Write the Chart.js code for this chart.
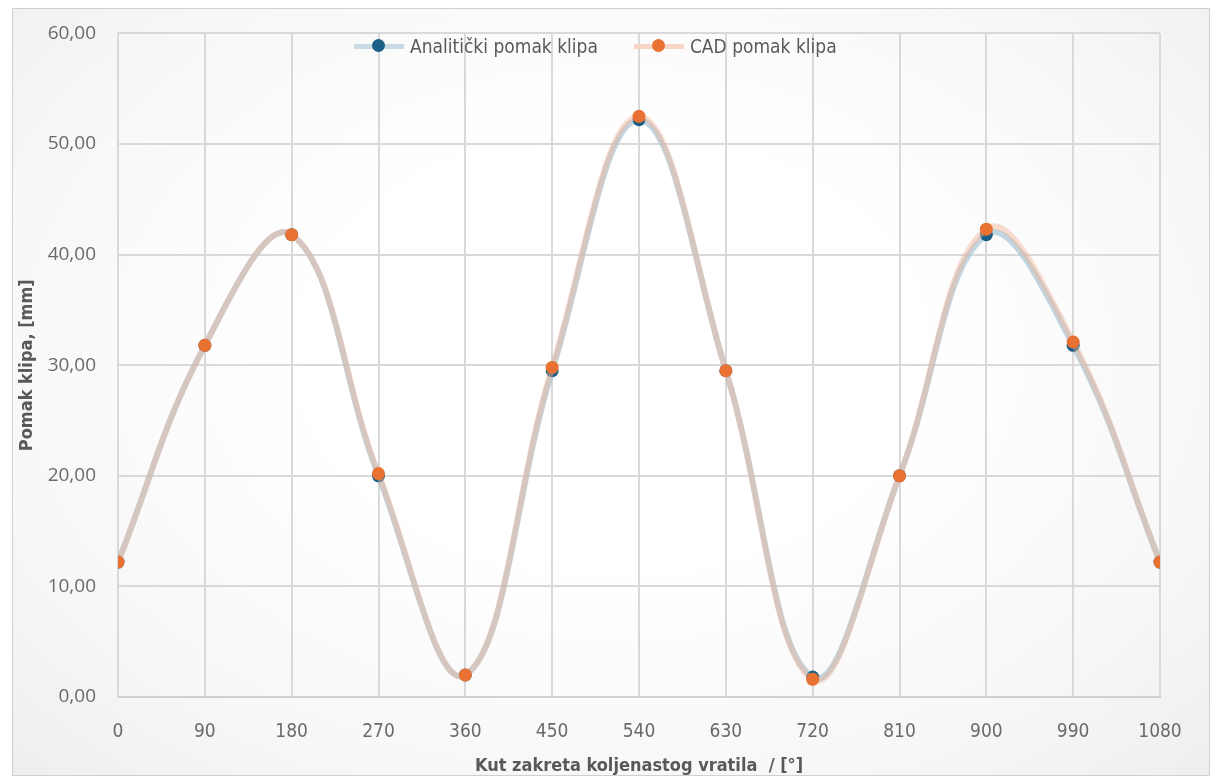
<!DOCTYPE html>
<html>
<head>
<meta charset="utf-8">
<script src="https://cdn.jsdelivr.net/npm/chart.js@4.4.1/dist/chart.umd.min.js"></script>
<style>
  html, body { margin: 0; padding: 0; background: #ffffff; }
  #wrap {
    position: relative; width: 1221px; height: 782px;
  }
  #frame {
    position: absolute; left: 12px; top: 8px; width: 1196px; height: 766px;
    border: 1px solid #d0d0d0;
    background: radial-gradient(ellipse at 50% 45%, #ffffff 35%, #f7f7f7 75%, #eeeeee 100%);
  }
  #chart { position: absolute; left: 0; top: 0; }
  #legend {
    position: absolute; left: 354px; top: 35px; display: flex; align-items: center;
    font-family: 'Liberation Sans Narrow', 'DejaVu Sans Condensed', sans-serif;
    font-size: 19px; color: #595959;
  }
  .item { display: flex; align-items: center; margin-right: 36px; }
  .sw { position: relative; width: 50px; height: 14px; margin-right: 6px; }
  .sw .ln { position: absolute; left: 0; right: 0; top: 5px; height: 5px; }
  .sw .dt { position: absolute; left: 18px; top: 0; width: 13px; height: 13px; border-radius: 50%; }
</style>
</head>
<body>
<div id="wrap">
  <div id="frame"></div>
  <canvas id="chart" width="1221" height="782"></canvas>
  <div id="legend"></div>
</div>
<script>
const angles = [0, 90, 180, 270, 360, 450, 540, 630, 720, 810, 900, 990, 1080];
const analitickiPomak = [12.2, 31.8, 41.8, 20.0, 2.0, 29.5, 52.2, 29.5, 1.8, 20.0, 41.8, 31.8, 12.2];
const cadPomak = [12.2, 31.8, 41.8, 20.2, 2.0, 29.8, 52.5, 29.5, 1.6, 20.0, 42.3, 32.1, 12.2];

const seriesNames = ['Analitički pomak klipa', 'CAD pomak klipa'];
const lineColors = ['rgba(170, 200, 218, 0.75)', 'rgba(242, 180, 150, 0.45)'];
const markerColors = ['#1b5f86', '#e97132'];

const toPoints = (vals) => angles.map((a, i) => ({ x: a, y: vals[i] }));

const ctx = document.getElementById('chart');

const tickFont = { family: "'Open Sans', 'DejaVu Sans', sans-serif", size: 19 };
const titleFont = { family: "'Liberation Sans Narrow', 'DejaVu Sans Condensed', sans-serif", size: 18, weight: 'bold' };

const makeSet = (i, vals, order) => ({
    label: seriesNames[i],
    data: toPoints(vals),
    borderColor: lineColors[i],
    backgroundColor: markerColors[i],
    pointBackgroundColor: markerColors[i],
    pointBorderColor: markerColors[i],
    pointRadius: 6.5,
    pointBorderWidth: 0,
    borderWidth: 6,
    tension: 0.4,
    fill: false,
    order: order
});

let pomakChart = new Chart(ctx, {
    type: 'scatter',
    data: {
        datasets: [makeSet(0, analitickiPomak, 1), makeSet(1, cadPomak, 0)]
    },
    options: {
        responsive: false,
        animation: false,
        showLine: true,
        layout: { padding: { left: 0, right: 61, top: 33, bottom: 0 } },
        plugins: {
            legend: { display: false },
            tooltip: { enabled: false }
        },
        scales: {
            x: {
                type: 'linear',
                min: 0,
                max: 1080,
                ticks: {
                    stepSize: 90,
                    color: '#6a6a6a',
                    font: { family: "'Liberation Sans Narrow', 'DejaVu Sans Condensed', sans-serif", size: 19 },
                    padding: 24,
                    maxRotation: 0,
                    callback: (v) => String(v)
                },
                grid: { color: '#d9d9d9', lineWidth: 2, drawTicks: false },
                border: { color: '#d0d0d0', width: 2 },
                title: {
                    display: true,
                    text: 'Kut zakreta koljenastog vratila  / [°]',
                    color: '#595959',
                    font: titleFont,
                    padding: { top: 0, bottom: 5 }
                },
                afterFit: (scale) => { scale.height = 85; }
            },
            y: {
                min: 0,
                max: 60,
                ticks: {
                    stepSize: 10,
                    color: '#6a6a6a',
                    font: tickFont,
                    padding: 22,
                    callback: (v) => v.toFixed(2).replace('.', ',')
                },
                grid: { color: '#d9d9d9', lineWidth: 2, drawTicks: false },
                border: { color: '#d9d9d9', width: 2 },
                title: {
                    display: true,
                    text: 'Pomak klipa, [mm]',
                    color: '#595959',
                    font: titleFont,
                    padding: { top: 17, bottom: 0 }
                },
                afterFit: (scale) => { scale.width = 118; }
            }
        }
    }
});

// legend: line + marker swatch, like the spreadsheet legend
const legendEl = document.getElementById('legend');
seriesNames.forEach((name, i) => {
    const item = document.createElement('div');
    item.className = 'item';
    const sw = document.createElement('span');
    sw.className = 'sw';
    const ln = document.createElement('span');
    ln.className = 'ln';
    ln.style.background = i === 0 ? '#c9dae4' : '#f8d5c4';
    const dt = document.createElement('span');
    dt.className = 'dt';
    dt.style.background = markerColors[i];
    sw.appendChild(ln);
    sw.appendChild(dt);
    const tx = document.createElement('span');
    tx.textContent = name;
    item.appendChild(sw);
    item.appendChild(tx);
    legendEl.appendChild(item);
});
</script>
</body>
</html>
